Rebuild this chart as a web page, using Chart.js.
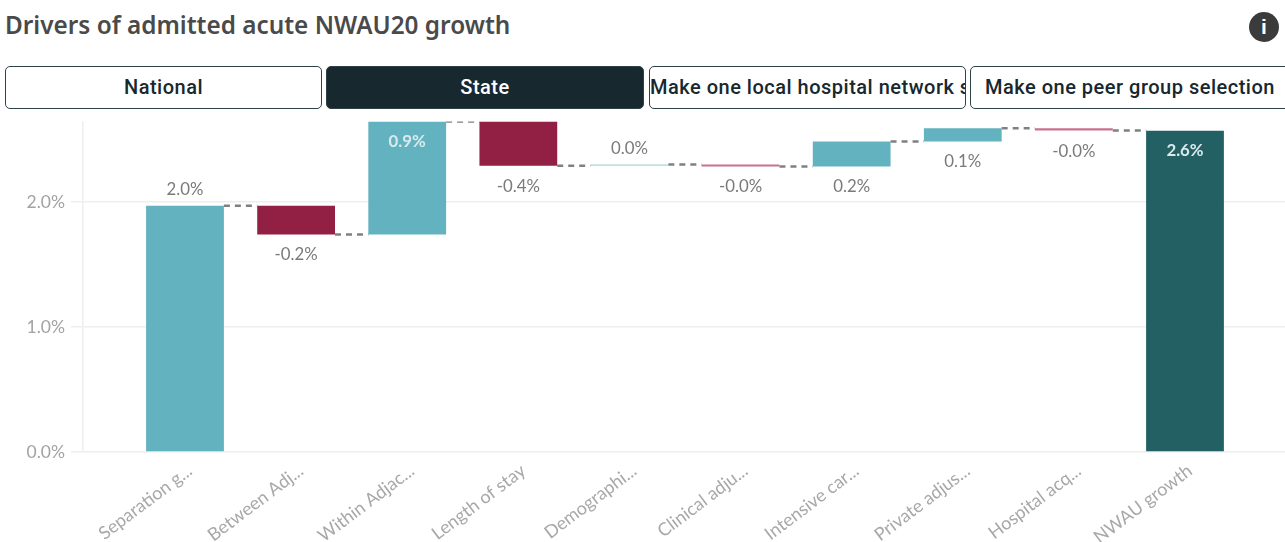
<!DOCTYPE html>
<html><head><meta charset="utf-8">
<script src="https://cdn.jsdelivr.net/npm/chart.js@4"></script>
<style>
html,body{margin:0;padding:0;background:#fff;overflow:hidden;width:1285px;height:542px}
#title{position:absolute;left:5px;top:8px;font:600 24.5px/34px "Noto Sans",sans-serif;color:#4a4a4a;white-space:nowrap;transform-origin:left center;transform:scaleX(.993)}
.btn{position:absolute;top:66px;height:43px;box-sizing:border-box;border:1.5px solid #2e4148;border-radius:5px;background:#fff;color:#17282f;font:500 20px/40px Roboto,sans-serif;letter-spacing:.5px;text-align:center;white-space:nowrap;overflow:hidden}
.on{background:#17282f;color:#fff}
#info{position:absolute;left:1249px;top:12px;width:30px;height:30px;border-radius:50%;background:#3b3b3b;color:#fff;font:bold 21px/30px "Liberation Sans",sans-serif;text-align:center}
#wrap{position:absolute;left:0;top:105px;width:1285px;height:437px}
</style></head><body>
<div id="title">Drivers of admitted acute NWAU20 growth</div>
<div class="btn" style="left:5px;width:317px">National</div>
<div class="btn on" style="left:326px;width:318px">State</div>
<div class="btn" style="left:649px;width:317px;text-align:left">Make one local hospital network selection</div>
<div class="btn" style="left:970px;width:320px;text-align:left;padding-left:14px">Make one peer group selection</div>
<div id="info">i</div>
<div id="wrap"><canvas id="c" width="1285" height="437"></canvas></div>
<script>
const categories = ["Separation g...","Between Adj...","Within Adjac...","Length of stay","Demographi...","Clinical adju...","Intensive car...","Private adjus...","Hospital acq...","NWAU growth"];
const barStart = [0,1.97,1.74,2.645,2.29,2.3,2.285,2.485,2.59,0];
const barEnd   = [1.97,1.74,2.645,2.29,2.3,2.285,2.485,2.59,2.572,2.57];
const valueLabels = ["2.0%","-0.2%","0.9%","-0.4%","0.0%","-0.0%","0.2%","0.1%","-0.0%","2.6%"];
const labelSpots = ["above","below","inside","below","above","below","below","below","below","inside"];
const barColors = ["#62b2bf","#921f44","#62b2bf","#921f44","#a5d4da","#c9708c","#62b2bf","#62b2bf","#c9708c","#236064"];
const yTicks = [0,1,2];
const yMax = 2.645;

const halfBar = 0.35;
const connectors = barEnd.slice(0,-1).map((v,i)=>({
  type:'line',
  data:[{x:i+halfBar,y:v},{x:i+1-halfBar,y:v}],
  borderColor:'#808080',borderWidth:2.5,borderDash:[6,5],pointRadius:0,fill:false,order:2
}));

const labelPlugin = {
  id:'valueLabels',
  afterDatasetsDraw(chart){
    const {ctx,scales:{x,y}} = chart;
    ctx.save();
    ctx.textAlign='center';ctx.textBaseline='middle';
    valueLabels.forEach((t,i)=>{
      const top=Math.max(barStart[i],barEnd[i]), bot=Math.min(barStart[i],barEnd[i]);
      const spot=labelSpots[i];
      let py;
      if(spot==='above') py=y.getPixelForValue(top)-16.5;
      else if(spot==='below') py=y.getPixelForValue(bot)+20.5;
      else py=y.getPixelForValue(top)+20;
      ctx.fillStyle=spot==='inside'?'#d9e9ec':'#7a7a7a';
      ctx.font=(spot==='inside'?'bold ':'')+'16.8px Lato, sans-serif';
      ctx.fillText(t,x.getPixelForValue(i),py);
    });
    ctx.restore();
  }
};

new Chart(document.getElementById('c'),{
  type:'bar',
  data:{
    labels:categories,
    datasets:[{
      type:'bar',
      data:categories.map((c,i)=>({x:i,y:[barStart[i],barEnd[i]]})),
      backgroundColor:barColors,
      borderSkipped:false,
      barPercentage:0.7,categoryPercentage:1,
      order:1
    },...connectors]
  },
  options:{
    responsive:false,animation:false,
    layout:{padding:0,autoPadding:false},
    plugins:{legend:{display:false},tooltip:{enabled:false},title:{display:false}},
    scales:{
      x:{
        type:'linear',min:-0.918,max:9.9,offset:false,
        afterBuildTicks(s){s.ticks=categories.map((c,i)=>({value:i}));},
        afterFit(s){s.height=90;},
        grid:{display:false,drawTicks:false},
        border:{display:false},
        ticks:{
          autoSkip:false,maxRotation:37,minRotation:37,padding:8,labelOffset:5,
          font:{family:'Lato',size:18},color:'#a8a8a8',
          callback(v){return categories[v];}
        }
      },
      y:{
        min:0,max:yMax,
        afterBuildTicks(s){s.ticks=yTicks.map(v=>({value:v}));},
        afterFit(s){s.width=83;},
        grid:{color:'#eeeeee',lineWidth:1.5,tickLength:12},
        border:{display:true,color:'#eeeeee',width:1.5},
        ticks:{padding:6,font:{family:'Lato',size:17.5},color:'#a3a3a3',callback(v){return v.toFixed(1)+'%';}}
      }
    }
  },
  plugins:[labelPlugin]
});
</script>
</body></html>
